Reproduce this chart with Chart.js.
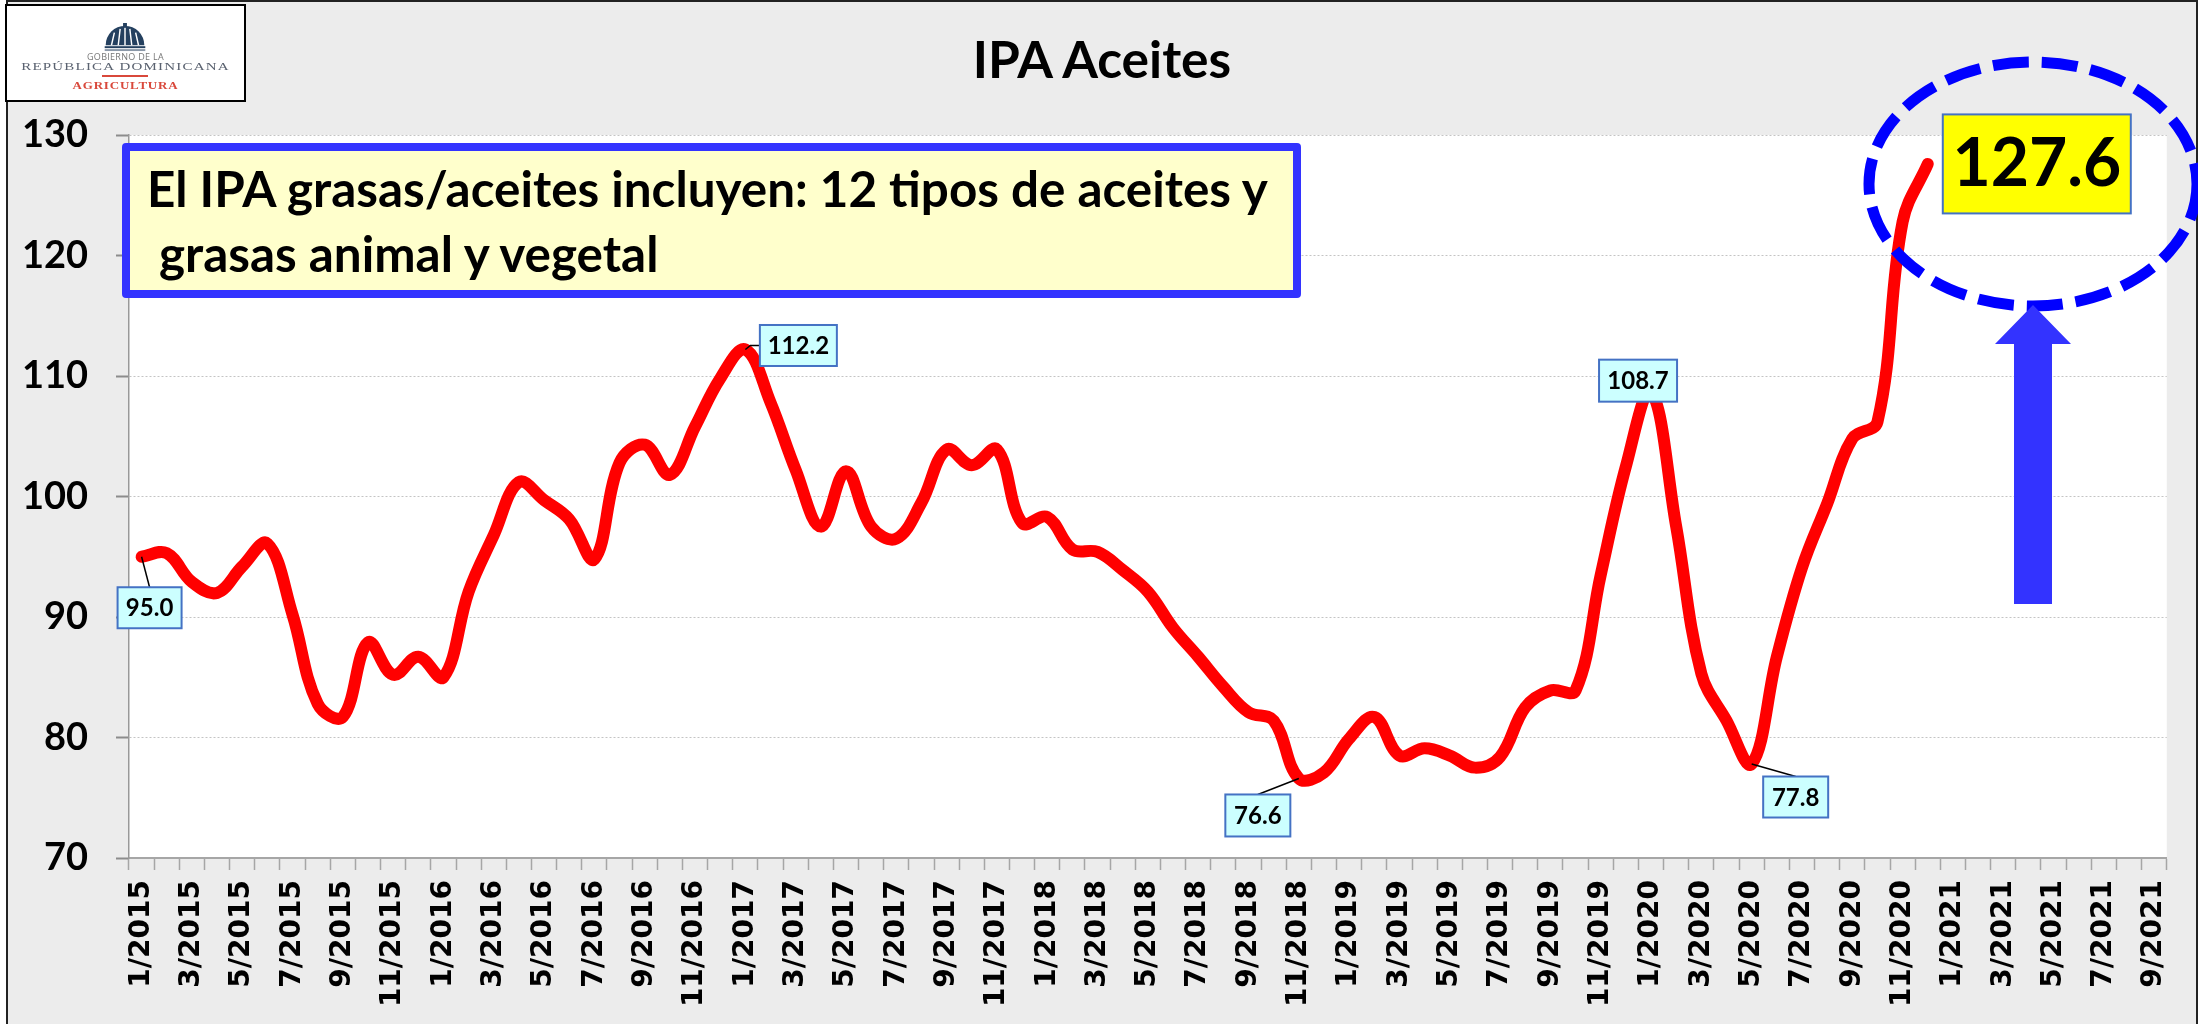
<!DOCTYPE html>
<html lang="es">
<head>
<meta charset="utf-8">
<title>IPA Aceites</title>
<script src="https://cdn.jsdelivr.net/npm/chart.js@4"></script>
<style>
  html, body { margin: 0; padding: 0; background: #fff; }
  #wrap { position: relative; width: 2198px; height: 1024px; overflow: hidden; }
  #wrap canvas { position: absolute; left: 0; top: 0; }
  #overlay { position: absolute; left: 0; top: 0; pointer-events: none; }
  #title {
    position: absolute; left: 702px; top: 28px; width: 800px; margin: 0; text-align: center;
    font: bold 51.5px/61px Lato, sans-serif; color: #000;
  }
  #note {
    position: absolute; left: 122px; top: 143px; width: 1179px; height: 155px;
    box-sizing: border-box; border: 8px solid #3333ff; border-radius: 4px; background: #ffffcc;
    font: bold 49.4px/65px Lato, sans-serif; color: #000; white-space: pre; padding: 5px 0 0 17px;
  }
  #logo {
    position: absolute; left: 5px; top: 4px; width: 241px; height: 98px;
    box-sizing: border-box; border: 2px solid #000; background: #fff; text-align: center;
  }
  #logo svg { position: absolute; left: 95px; top: 17px; }
  #logo div { position: absolute; left: 0; width: 100%; white-space: nowrap; }
  #logo .l1 { top: 44px; font: 9px/14px "Open Sans", sans-serif; letter-spacing: 0.3px; color: #777; }
  #logo .l2 { top: 51px; font: 15px/18px "Liberation Serif", serif; letter-spacing: 1.2px; color: #5a6270; transform: scaleY(0.72); }
  #logo .bar { top: 69px; left: 95px; width: 46px; height: 2px; background: #d9483b; }
  #logo .l3 { top: 72px; font: bold 13px/16px "Liberation Serif", serif; letter-spacing: 0.8px; color: #d9483b; transform: scaleY(0.8); }
</style>
</head>
<body>
<div id="wrap">
  <canvas id="chart" width="2198" height="1024"></canvas>
  <svg id="overlay" width="2198" height="1024">
    <ellipse cx="2033" cy="184" rx="164" ry="122" fill="none" stroke="#0000ff" stroke-width="11" stroke-dasharray="36 13"></ellipse>
    <path d="M2033 305 L2071 344 L2052 344 L2052 604 L2014 604 L2014 344 L1995 344 Z" fill="#3333ff"></path>
  </svg>
  <h1 id="title">IPA Aceites</h1>
  <div id="note">El IPA grasas/aceites incluyen: 12 tipos de aceites y
 grasas animal y vegetal</div>
  <div id="logo">
    <svg width="46" height="29" viewBox="0 0 46 30">
      <path d="M3 23 A20 20 0 0 1 43 23 Z" fill="#24405f"></path>
      <path d="M9 23 L12 10 M16 23 L18 6 M23 23 L23 4 M30 23 L28 6 M37 23 L34 10" stroke="#fff" stroke-width="1.5"></path>
      <rect x="21" y="0" width="4" height="5" fill="#24405f"></rect>
      <rect x="2" y="24" width="42" height="2" fill="#24405f"></rect>
      <rect x="2" y="27" width="42" height="2" fill="#8b98a8"></rect>
    </svg>
    <div class="l1">GOBIERNO DE LA</div>
    <div class="l2">REPÚBLICA DOMINICANA</div>
    <div class="bar"></div>
    <div class="l3">AGRICULTURA</div>
  </div>
</div>
<script>
const months = [
  '1/2015','2/2015','3/2015','4/2015','5/2015','6/2015','7/2015','8/2015','9/2015','10/2015','11/2015','12/2015',
  '1/2016','2/2016','3/2016','4/2016','5/2016','6/2016','7/2016','8/2016','9/2016','10/2016','11/2016','12/2016',
  '1/2017','2/2017','3/2017','4/2017','5/2017','6/2017','7/2017','8/2017','9/2017','10/2017','11/2017','12/2017',
  '1/2018','2/2018','3/2018','4/2018','5/2018','6/2018','7/2018','8/2018','9/2018','10/2018','11/2018','12/2018',
  '1/2019','2/2019','3/2019','4/2019','5/2019','6/2019','7/2019','8/2019','9/2019','10/2019','11/2019','12/2019',
  '1/2020','2/2020','3/2020','4/2020','5/2020','6/2020','7/2020','8/2020','9/2020','10/2020','11/2020','12/2020',
  '1/2021','2/2021','3/2021','4/2021','5/2021','6/2021','7/2021','8/2021','9/2021'
];

const ipaAceites = [
  95.0, 95.3, 92.9, 92.0, 94.2, 96.1, 90.2, 82.8, 81.7, 87.9, 85.2, 86.7,
  85.0, 92.1, 96.8, 101.2, 99.7, 98.1, 94.8, 102.8, 104.3, 101.8, 105.8, 109.8,
  112.2, 107.8, 102.2, 97.5, 102.1, 97.5, 96.5, 99.5, 103.9, 102.6, 103.9, 97.8,
  98.3, 95.6, 95.4, 93.9, 92.1, 89.1, 86.7, 84.2, 82.1, 81.4, 76.6, 77.1,
  79.9, 81.7, 78.5, 79.1, 78.5, 77.5, 78.4, 82.5, 83.9, 83.9, 93.5, 102.5,
  108.7, 97.5, 85.3, 81.4, 77.8, 86.7, 94.1, 99.4, 104.8, 106.2, 122.8, 127.6
];

const yTicks = [70, 80, 90, 100, 110, 120, 130];

// callouts sit at an offset from the point they label
const callouts = [
  { index: 0, dx: 8, dy: 51, w: 64, h: 41, leader: 'top' },
  { index: 24, dx: 53, dy: -4, w: 77, h: 41, leader: 'left' },
  { index: 60, dx: -13, dy: -11, w: 78, h: 42 },
  { index: 46, dx: -41, dy: 37, w: 65, h: 42, leader: 'top' },
  { index: 64, dx: 44, dy: 33, w: 65, h: 41, leader: 'top' },
  { index: 71, dx: 109, dy: 0, w: 188, h: 99, size: 66, fill: '#ffff00' }
];

// Grey background, frame and white plot area
const backdrop = {
  id: 'backdrop',
  beforeDraw(chart) {
    const { ctx, chartArea: a, width, height } = chart;
    ctx.save();
    ctx.fillStyle = '#fff';
    ctx.fillRect(0, 0, width, height);
    ctx.fillStyle = '#ececec';
    ctx.fillRect(7, 2, width - 8, height);
    ctx.strokeStyle = '#222';
    ctx.lineWidth = 2;
    ctx.strokeRect(7, 1, width - 8, height + 4);
    ctx.fillStyle = '#fff';
    ctx.fillRect(a.left, a.top, a.right - a.left, a.bottom - a.top);
    ctx.restore();
  }
};

// Value boxes with their leader lines
const valueBoxes = {
  id: 'valueBoxes',
  afterDatasetsDraw(chart) {
    const { ctx, scales } = chart;
    ctx.save();
    callouts.forEach((c) => {
      const value = ipaAceites[c.index];
      const px = scales.x.getPixelForValue(c.index);
      const py = scales.y.getPixelForValue(value);
      const cx = px + c.dx;
      const cy = py + c.dy;
      const left = cx - c.w / 2;
      const top = cy - c.h / 2;
      ctx.strokeStyle = '#000';
      ctx.lineWidth = 1.5;
      if (c.leader === 'top') {
        ctx.beginPath();
        ctx.moveTo(px, py);
        ctx.lineTo(cx, top);
        ctx.stroke();
      } else if (c.leader === 'left') {
        ctx.beginPath();
        ctx.moveTo(px, py);
        ctx.lineTo(px + 5, cy);
        ctx.lineTo(left, cy);
        ctx.stroke();
      }
      ctx.fillStyle = c.fill || '#ccffff';
      ctx.fillRect(left, top, c.w, c.h);
      ctx.strokeStyle = '#4472c4';
      ctx.lineWidth = 2;
      ctx.strokeRect(left, top, c.w, c.h);
      ctx.fillStyle = '#000';
      ctx.font = `bold ${c.size || 24}px Lato, sans-serif`;
      ctx.textAlign = 'center';
      ctx.textBaseline = 'middle';
      ctx.fillText(value.toFixed(1), cx, cy + 1);
    });
    ctx.restore();
  }
};

new Chart(document.getElementById('chart'), {
  type: 'line',
  data: {
    labels: months,
    datasets: [{
      label: 'IPA Aceites',
      data: ipaAceites,
      borderColor: '#ff0000',
      borderWidth: 12,
      borderCapStyle: 'round',
      borderJoinStyle: 'round',
      tension: 0.38,
      pointRadius: 0,
      fill: false
    }]
  },
  options: {
    responsive: false,
    animation: false,
    layout: { padding: { left: 0, right: 31, top: 135, bottom: 0 } },
    plugins: {
      legend: { display: false },
      tooltip: { enabled: false },
      title: { display: false }
    },
    scales: {
      x: {
        offset: true,
        border: { color: '#a6a6a6', width: 2 },
        grid: { drawOnChartArea: false, offset: true, tickLength: 12, tickColor: '#a6a6a6', tickWidth: 1.5 },
        ticks: {
          autoSkip: false,
          minRotation: 90,
          maxRotation: 90,
          padding: 10,
          color: '#000',
          font: { family: '"DejaVu Sans", sans-serif', size: 28, weight: 'bold' },
          callback(value, index) {
            return index % 2 === 0 ? months[index] : '';
          }
        },
        afterFit(scale) { scale.height = 166; }
      },
      y: {
        min: yTicks[0],
        max: yTicks[yTicks.length - 1],
        border: { color: '#999', width: 1.5, dash: [2, 2] },
        grid: { color: '#c4c4c4', tickLength: 13, tickColor: '#8c8c8c', tickWidth: 2 },
        ticks: {
          stepSize: 10,
          padding: 28,
          color: '#000',
          font: { family: 'Lato, sans-serif', size: 38, weight: 'bold' }
        },
        afterFit(scale) { scale.width = 129; }
      }
    }
  },
  plugins: [backdrop, valueBoxes]
});
</script>
</body>
</html>
